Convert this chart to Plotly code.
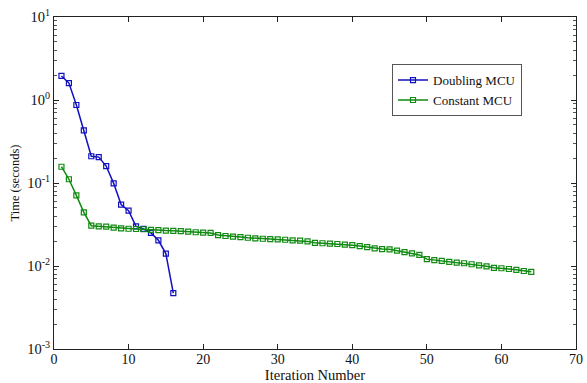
import plotly.graph_objects as go

iter_doubling = list(range(1, 17))
time_doubling = [1.95, 1.6, 0.87, 0.43, 0.21, 0.205, 0.16, 0.099, 0.055, 0.0465,
                 0.030, 0.028, 0.025, 0.0204, 0.0141, 0.0047]

iter_constant = list(range(1, 65))
time_constant = [0.157, 0.111, 0.071, 0.0443, 0.0306, 0.0301, 0.0298, 0.029, 0.0284, 0.0281,
                 0.0279, 0.0277, 0.0272, 0.027, 0.0267, 0.0265, 0.0263, 0.0259, 0.0255, 0.0252,
                 0.025, 0.0236, 0.0230, 0.0226, 0.0223, 0.0219, 0.0215, 0.0213, 0.0211, 0.0209,
                 0.0207, 0.0204, 0.0202, 0.0198, 0.0190, 0.0188, 0.0186, 0.0184, 0.0181, 0.0178,
                 0.0174, 0.0169, 0.0163, 0.0160, 0.0159, 0.0153, 0.0147, 0.0142, 0.0136, 0.0121,
                 0.0118, 0.0115, 0.0112, 0.0110, 0.0108, 0.0105, 0.0102, 0.0099, 0.0095, 0.0094,
                 0.0092, 0.0090, 0.0087, 0.0085]

x_ticks = [0, 10, 20, 30, 40, 50, 60, 70]
y_tickvals = [1e-3, 1e-2, 1e-1, 1, 10]
y_ticktext = ["10<sup>-3</sup>", "10<sup>-2</sup>", "10<sup>-1</sup>", "10<sup>0</sup>", "10<sup>1</sup>"]

minor_y = [m * 10 ** e for e in range(-3, 1) for m in range(2, 10)]

FONT = "Liberation Serif, Times New Roman, serif"
BLUE = "#1010c0"
GREEN = "#108a10"

fig = go.Figure()
fig.add_trace(go.Scatter(
    x=iter_doubling, y=time_doubling, name="Doubling MCU", mode="lines+markers",
    line=dict(color=BLUE, width=1.5),
    marker=dict(symbol="square-open", size=5, color=BLUE, line=dict(width=1.2)),
))
fig.add_trace(go.Scatter(
    x=iter_constant, y=time_constant, name="Constant MCU", mode="lines+markers",
    line=dict(color=GREEN, width=1.5),
    marker=dict(symbol="square-open", size=5, color=GREEN, line=dict(width=1.2)),
))

fig.update_layout(
    width=587, height=383,
    margin=dict(l=54, r=11, t=17, b=34),
    paper_bgcolor="white", plot_bgcolor="white",
    font=dict(family=FONT, size=14, color="#111"),
    showlegend=True,
    legend=dict(x=0.6475, y=0.858, xanchor="left", yanchor="top",
                bordercolor="#555", borderwidth=1, bgcolor="white",
                font=dict(family=FONT, size=13), tracegroupgap=0,
                itemwidth=30),
    xaxis=dict(
        range=[0, 70], tickvals=x_ticks, showgrid=False, zeroline=False, automargin=False,
        showline=True, linecolor="#222", linewidth=1, mirror="ticks",
        ticks="inside", ticklen=5, tickcolor="#222", ticklabelstandoff=-3,
        title=dict(text="Iteration Number", standoff=0, font=dict(size=14.5)),
        tickfont=dict(size=14),
    ),
    yaxis=dict(
        type="log", range=[-3, 1], tickvals=y_tickvals, ticktext=y_ticktext,
        showgrid=False, zeroline=False, automargin=False,
        showline=True, linecolor="#222", linewidth=1, mirror="ticks",
        ticks="inside", ticklen=5, tickcolor="#222",
        minor=dict(tickvals=minor_y, ticks="inside", ticklen=3, tickcolor="#555", showgrid=False),
        title=dict(text="Time (seconds)", standoff=4, font=dict(size=12.5)),
        tickfont=dict(size=14.5),
    ),
)

fig.write_html("out.html", config={"displayModeBar": False},
               post_script="document.body.style.margin='0';document.body.style.overflow='hidden';")
